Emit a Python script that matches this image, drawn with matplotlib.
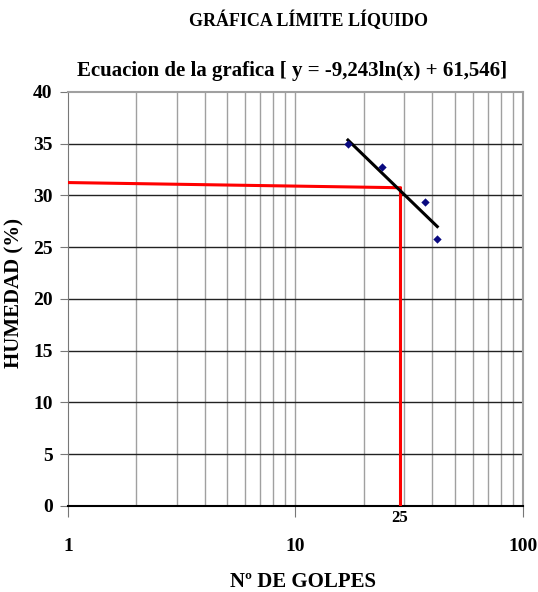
import numpy as np
import matplotlib.pyplot as plt
from matplotlib.ticker import FixedLocator, NullFormatter

# datos de los ensayos
golpes = [17.0, 24.0, 37.0, 42.0]
humedad = [35.0, 32.8, 29.4, 25.8]

# recta de tendencia y = a ln(x) + b
a = -9.243
b = 61.546
x_tend = [17.0, 42.0]

# lineas rojas de lectura
x_rojo = [1.0, 28.8]
y_rojo = [31.25, 30.75]
x_lim_liq = 28.8
etiqueta_lim = "25"

y_ticks = [0, 5, 10, 15, 20, 25, 30, 35, 40]
x_ticks = [1, 10, 100]

plt.rcParams['font.family'] = ['Liberation Serif', 'DejaVu Serif']
plt.rcParams['font.weight'] = 'bold'

fig = plt.figure(figsize=(5.38, 5.92), dpi=100)
ax = fig.add_axes([0.1264, 0.1453, 0.8457, 0.6993])

ax.set_xscale('log')
ax.set_xlim(1, 100)
ax.set_ylim(0, 40)

# rejilla
minors = [m * d for d in (1, 10) for m in range(2, 10)] + [10]
for xv in minors:
    ax.axvline(xv, color='#a0a0a0', lw=1.0, zorder=1)
for yv in y_ticks[1:-1]:
    ax.axhline(yv, color='#222222', lw=1.0, zorder=1)

for s in ('top', 'right'):
    ax.spines[s].set_color('#a0a0a0')
    ax.spines[s].set_linewidth(1.5)
ax.spines['left'].set_color('#777777')
ax.spines['bottom'].set_color('black')
ax.spines['bottom'].set_linewidth(1.5)

# linea roja
ax.plot(x_rojo, y_rojo, color='red', lw=2.2, zorder=3)
ax.plot([x_lim_liq, x_lim_liq], [0, y_rojo[1]], color='red', lw=2.2, zorder=3)

# tendencia
xt = np.array(x_tend)
ax.plot(xt, a * np.log(xt) + b, color='black', lw=2.2, zorder=4)

# puntos
ax.scatter(golpes, humedad, marker='D', s=18, color='#0a0a80', zorder=5,
           linewidths=0)

ax.xaxis.set_major_locator(FixedLocator(x_ticks))
ax.xaxis.set_minor_formatter(NullFormatter())
ax.tick_params(axis='x', which='minor', length=0)
ax.set_xticklabels([str(t) for t in x_ticks], fontsize=14, fontweight='bold')
ax.tick_params(axis='x', which='major', length=8, pad=15, color='#777777')
ax.set_yticks(y_ticks)
ax.set_yticklabels([str(t) for t in y_ticks], fontsize=14, fontweight='bold')
ax.tick_params(axis='y', length=6, pad=5, color='#777777')

ax.text(x_lim_liq, -0.4, etiqueta_lim, ha='center', va='top', fontsize=12,
        fontweight='bold')

ax.set_ylabel('HUMEDAD (%)', fontsize=15, fontweight='bold')
ax.yaxis.set_label_coords(-0.095, 0.514)
ax.set_xlabel('Nº DE GOLPES', fontsize=15, fontweight='bold')
ax.xaxis.set_label_coords(0.517, -0.16)

fig.text(0.573, 0.965, 'GRÁFICA LÍMITE LÍQUIDO', ha='center', va='center',
         fontsize=13, fontweight='bold')
fig.text(0.543, 0.88, 'Ecuacion de la grafica [ y = -9,243ln(x) + 61,546]',
         ha='center', va='center', fontsize=15, fontweight='bold')

fig.savefig('out.png', dpi=100)
